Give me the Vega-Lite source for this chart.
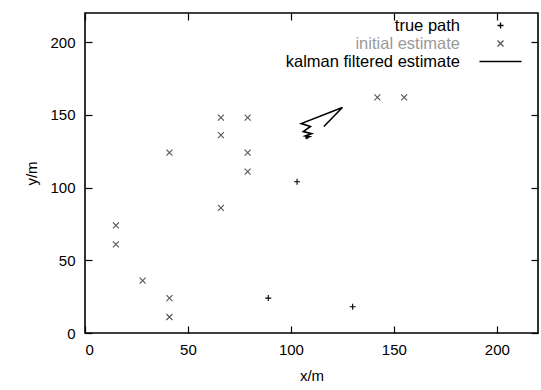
{
  "$schema": "https://vega.github.io/schema/vega-lite/v6.json",
  "width": 453,
  "height": 320,
  "autosize": "none",
  "padding": {"left": 85, "top": 13, "right": 3, "bottom": 57},
  "background": "white",
  "config": {
    "view": {"stroke": "black", "strokeWidth": 1.6},
    "font": "Liberation Sans",
    "axis": {
      "grid": false,
      "domain": false,
      "tickColor": "black",
      "tickWidth": 1.2,
      "tickSize": -7,
      "labelColor": "black",
      "labelFontSize": 15,
      "titleFontSize": 15,
      "titleFontWeight": "normal",
      "titleColor": "black"
    },
    "legend": {
      "orient": "none", "legendX": 407, "legendY": 4, "padding": 0,
      "labelAlign": "right", "labelOffset": -49, "labelFontSize": 16.5, "labelFont": "Liberation Sans",
      "labelLimit": 0, "symbolSize": 225, "symbolStrokeWidth": 1.3, "rowPadding": 1
    }
  },
  "datasets": {
    "pts": [
      {"series": "true path", "x": 103, "y": 104},
      {"series": "true path", "x": 89, "y": 24},
      {"series": "true path", "x": 130, "y": 18},
      {"series": "initial estimate", "x": 15, "y": 74},
      {"series": "initial estimate", "x": 15, "y": 61},
      {"series": "initial estimate", "x": 28, "y": 36},
      {"series": "initial estimate", "x": 41, "y": 24},
      {"series": "initial estimate", "x": 41, "y": 11},
      {"series": "initial estimate", "x": 41, "y": 124},
      {"series": "initial estimate", "x": 66, "y": 148},
      {"series": "initial estimate", "x": 66, "y": 136},
      {"series": "initial estimate", "x": 66, "y": 86},
      {"series": "initial estimate", "x": 79, "y": 148},
      {"series": "initial estimate", "x": 79, "y": 124},
      {"series": "initial estimate", "x": 79, "y": 111},
      {"series": "initial estimate", "x": 142, "y": 162},
      {"series": "initial estimate", "x": 155, "y": 162}
    ],
    "kal": [
      {"series": "kalman filtered estimate", "order": 1, "x": 116, "y": 142},
      {"series": "kalman filtered estimate", "order": 2, "x": 125, "y": 155},
      {"series": "kalman filtered estimate", "order": 3, "x": 105, "y": 144},
      {"series": "kalman filtered estimate", "order": 4, "x": 109.5, "y": 142},
      {"series": "kalman filtered estimate", "order": 5, "x": 106, "y": 138.5},
      {"series": "kalman filtered estimate", "order": 6, "x": 110, "y": 137},
      {"series": "kalman filtered estimate", "order": 7, "x": 107, "y": 135.5},
      {"series": "kalman filtered estimate", "order": 8, "x": 109, "y": 135},
      {"series": "kalman filtered estimate", "order": 9, "x": 107, "y": 134},
      {"series": "kalman filtered estimate", "order": 10, "x": 108.5, "y": 134.5},
      {"series": "kalman filtered estimate", "order": 11, "x": 107.5, "y": 133.5},
      {"series": "kalman filtered estimate", "order": 12, "x": 108, "y": 134}
    ]
  },
  "layer": [
    {
      "data": {"name": "kal"},
      "mark": {"type": "line", "strokeWidth": 1.6},
      "encoding": {
        "x": {"field": "x", "type": "quantitative", "scale": {"domain": [0, 220], "nice": false, "zero": false},
              "axis": {"orient": "top", "values": [0, 50, 100, 150, 200], "labels": false, "title": null}},
        "y": {"field": "y", "type": "quantitative", "scale": {"domain": [0, 220], "nice": false, "zero": false},
              "axis": {"orient": "right", "values": [0, 50, 100, 150, 200], "labels": false, "title": null}},
        "order": {"field": "order", "type": "quantitative"},
        "color": {"field": "series", "type": "nominal",
                  "scale": {"domain": ["true path", "initial estimate", "kalman filtered estimate"], "range": ["#000000", "#555555", "#000000"]},
                  "legend": {"title": null, "encode": {"labels": {"update": {"fill": [
                      {"test": "datum.label === 'initial estimate'", "value": "#9a9a9a"},
                      {"value": "#000000"}
                    ]}}}}}
      }
    },
    {
      "data": {"name": "pts"},
      "mark": {"type": "point", "filled": false, "size": 225, "strokeWidth": 1.1, "opacity": 1},
      "encoding": {
        "x": {"field": "x", "type": "quantitative",
              "axis": {"orient": "bottom", "values": [0, 50, 100, 150, 200], "title": "x/m", "labelPadding": 16, "titlePadding": 11}},
        "y": {"field": "y", "type": "quantitative",
              "axis": {"orient": "left", "values": [0, 50, 100, 150, 200], "title": "y/m", "labelPadding": 17, "titlePadding": 10}},
        "color": {"field": "series", "type": "nominal",
                  "legend": {"title": null, "encode": {"labels": {"update": {"fill": [
                      {"test": "datum.label === 'initial estimate'", "value": "#9a9a9a"},
                      {"value": "#000000"}
                    ]}}}}},
        "shape": {"field": "series", "type": "nominal",
                  "scale": {"domain": ["true path", "initial estimate", "kalman filtered estimate"],
                            "range": ["M-0.4,0L0.4,0M0,-0.4L0,0.4", "M-0.4,-0.4L0.4,0.4M-0.4,0.4L0.4,-0.4", "M-2.8,0L2.8,0"]},
                  "legend": {"title": null, "encode": {"labels": {"update": {"fill": [
                      {"test": "datum.label === 'initial estimate'", "value": "#9a9a9a"},
                      {"value": "#000000"}
                    ]}}}}}
      }
    }
  ],
  "resolve": {"axis": {"x": "independent", "y": "independent"}}
}
